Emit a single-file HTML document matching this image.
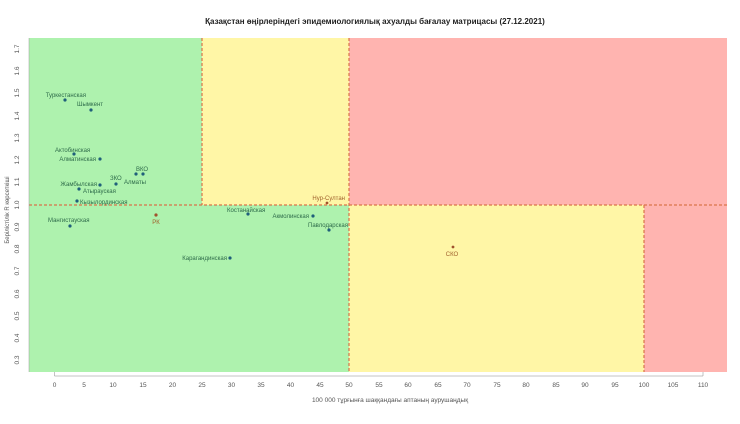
<!DOCTYPE html>
<html><head><meta charset="utf-8"><style>
body{margin:0;background:#fff;}
svg text{font-family:"Liberation Sans",sans-serif;}
</style></head><body>
<svg width="740" height="419" viewBox="0 0 740 419" xmlns="http://www.w3.org/2000/svg">
<rect width="740" height="419" fill="#fff"/>
<text x="375" y="24" font-size="8" font-weight="bold" text-anchor="middle" fill="#222">Қазақстан өңірлеріндегі эпидемиологиялық ахуалды бағалау матрицасы  (27.12.2021)</text>
<rect x="29" y="38" width="320" height="334" fill="#aef2ae"/>
<rect x="202" y="38" width="147" height="167" fill="#fff6a6"/>
<rect x="349" y="38" width="378" height="167" fill="#ffb4b0"/>
<rect x="349" y="205" width="295" height="167" fill="#fff6a6"/>
<rect x="644" y="205" width="83" height="167" fill="#ffb4b0"/>
<g stroke="#d9734a" stroke-width="1.2" stroke-dasharray="3,2" fill="none">
<line x1="29" y1="205" x2="727" y2="205"/>
<line x1="202" y1="38" x2="202" y2="205"/>
<line x1="349" y1="38" x2="349" y2="372"/>
<line x1="644" y1="205" x2="644" y2="372"/>
</g>
<line x1="29" y1="38" x2="29" y2="372" stroke="#999" stroke-width="0.5"/>
<g font-size="6.5" fill="#555" text-anchor="middle">
<text x="54.5" y="387">0</text><text x="84" y="387">5</text><text x="113" y="387">10</text><text x="143" y="387">15</text><text x="172.5" y="387">20</text><text x="202" y="387">25</text><text x="231.5" y="387">30</text><text x="261" y="387">35</text><text x="290.5" y="387">40</text><text x="320" y="387">45</text><text x="349" y="387">50</text><text x="379" y="387">55</text><text x="408" y="387">60</text><text x="438" y="387">65</text><text x="467" y="387">70</text><text x="497" y="387">75</text><text x="526" y="387">80</text><text x="556" y="387">85</text><text x="585" y="387">90</text><text x="615" y="387">95</text><text x="644" y="387">100</text><text x="673" y="387">105</text><text x="703" y="387">110</text>
</g>
<g stroke="#888" stroke-width="0.5">
<line x1="54.5" y1="372" x2="54.5" y2="376"/><line x1="703" y1="372" x2="703" y2="376"/><line x1="54.5" y1="376" x2="703" y2="376"/>
</g>
<g font-size="6.5" fill="#555" text-anchor="middle">
<text transform="translate(19,49) rotate(-90)">1.7</text>
<text transform="translate(19,71) rotate(-90)">1.6</text>
<text transform="translate(19,93) rotate(-90)">1.5</text>
<text transform="translate(19,116) rotate(-90)">1.4</text>
<text transform="translate(19,138) rotate(-90)">1.3</text>
<text transform="translate(19,160) rotate(-90)">1.2</text>
<text transform="translate(19,182) rotate(-90)">1.1</text>
<text transform="translate(19,205) rotate(-90)">1.0</text>
<text transform="translate(19,227) rotate(-90)">0.9</text>
<text transform="translate(19,249) rotate(-90)">0.8</text>
<text transform="translate(19,271) rotate(-90)">0.7</text>
<text transform="translate(19,294) rotate(-90)">0.6</text>
<text transform="translate(19,316) rotate(-90)">0.5</text>
<text transform="translate(19,338) rotate(-90)">0.4</text>
<text transform="translate(19,360) rotate(-90)">0.3</text>
<text transform="translate(9,210) rotate(-90)" font-size="6">Берілістілік R көрсеткіші</text>
</g>
<text x="390" y="402" font-size="6.5" fill="#555" text-anchor="middle">100 000 тұрғынға шаққандағы аптаның аурушаңдық</text>
<g fill="#1f5f7a">
<circle cx="65" cy="100" r="1.6"/><circle cx="91" cy="110" r="1.6"/><circle cx="74" cy="154" r="1.6"/><circle cx="100" cy="159" r="1.6"/><circle cx="136" cy="174" r="1.6"/><circle cx="143" cy="174" r="1.6"/><circle cx="116" cy="184" r="1.6"/><circle cx="100" cy="185" r="1.6"/><circle cx="79" cy="189" r="1.6"/><circle cx="77" cy="201" r="1.6"/><circle cx="70" cy="226" r="1.6"/><circle cx="248" cy="214" r="1.6"/><circle cx="313" cy="216" r="1.6"/><circle cx="329" cy="230" r="1.6"/><circle cx="230" cy="258" r="1.6"/>
</g>
<g fill="#a0522d"><circle cx="156" cy="215" r="1.6"/><circle cx="327" cy="203" r="1.4"/><circle cx="453" cy="247" r="1.4"/></g>
<g font-size="6" fill="#2e6b4a">
<text x="86" y="97" text-anchor="end">Туркестанская</text>
<text x="77" y="106">Шымкент</text>
<text x="55" y="152">Актобинская</text>
<text x="96" y="161" text-anchor="end">Алматинская</text>
<text x="136" y="171">ВКО</text>
<text x="124" y="184">Алматы</text>
<text x="110" y="180">ЗКО</text>
<text x="97" y="186" text-anchor="end">Жамбылская</text>
<text x="83" y="193">Атырауская</text>
<text x="80" y="204">Кызылординская</text>
<text x="48" y="222">Мангистауская</text>
<text x="227" y="212">Костанайская</text>
<text x="309" y="218" text-anchor="end">Акмолинская</text>
<text x="308" y="227">Павлодарская</text>
<text x="227" y="260" text-anchor="end">Карагандинская</text>
</g>
<g font-size="6" fill="#a0622d">
<text x="156" y="224" text-anchor="middle">РК</text>
<text x="345" y="200" text-anchor="end">Нур-Султан</text>
<text x="452" y="256" text-anchor="middle">СКО</text>
</g>
</svg>
</body></html>
